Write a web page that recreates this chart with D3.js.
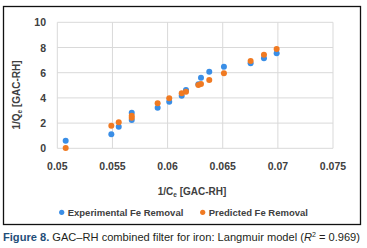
<!DOCTYPE html>
<html>
<head>
<meta charset="utf-8">
<script src="https://cdn.jsdelivr.net/npm/d3@7"></script>
<style>
  body { margin: 0; background: #fff; }
  svg text { font-family: "Liberation Sans", Arial, sans-serif; }
</style>
</head>
<body>
<script>
// 1/Ce values and 1/Qe values
var expX = [0.05076, 0.0549, 0.05557, 0.05675, 0.05675, 0.0591, 0.06015, 0.06128, 0.06167, 0.06279, 0.06303, 0.06378, 0.06511, 0.06753, 0.06874, 0.06989];
var expY = [0.60, 1.11, 1.71, 2.25, 2.83, 3.22, 3.70, 4.17, 4.63, 5.08, 5.60, 6.08, 6.48, 6.75, 7.14, 7.54];
var predX = [0.05076, 0.0549, 0.05557, 0.05675, 0.05675, 0.0591, 0.06015, 0.06128, 0.06167, 0.06279, 0.06303, 0.06378, 0.06511, 0.06753, 0.06874, 0.06989];
var predY = [0.02, 1.79, 2.06, 2.42, 2.58, 3.57, 3.97, 4.36, 4.49, 5.02, 5.10, 5.42, 5.95, 6.93, 7.43, 7.88];
var xTicks = [0.05, 0.055, 0.06, 0.065, 0.07, 0.075];
var yTicks = [0, 2, 4, 6, 8, 10];
var seriesNames = ["Experimental Fe Removal", "Predicted Fe Removal"];
var seriesColors = ["#3a8ee6", "#f07a22"];

var W = 367, H = 248;
var svg = d3.select("body").append("svg")
    .attr("width", W)
    .attr("height", H);

// chart frame
svg.append("rect")
    .attr("x", 3.5).attr("y", 6.5)
    .attr("width", 357).attr("height", 218)
    .attr("fill", "#fff")
    .attr("stroke", "#111")
    .attr("stroke-width", 1.3);

var x = d3.scaleLinear().domain([0.05, 0.075]).range([57.3, 333]);
var y = d3.scaleLinear().domain([0, 10]).range([148.3, 22.3]);

// gridlines
svg.append("g").selectAll("line.v")
    .data(xTicks).enter().append("line")
    .attr("x1", d => x(d)).attr("x2", d => x(d))
    .attr("y1", y(0)).attr("y2", y(10))
    .attr("stroke", "#d9d9d9").attr("stroke-width", 1);
svg.append("g").selectAll("line.h")
    .data(yTicks).enter().append("line")
    .attr("x1", x(0.05)).attr("x2", x(0.075))
    .attr("y1", d => y(d)).attr("y2", d => y(d))
    .attr("stroke", "#d9d9d9").attr("stroke-width", 1);

// tick labels
svg.append("g").selectAll("text")
    .data(yTicks).enter().append("text")
    .attr("x", 46)
    .attr("y", d => y(d) + 4)
    .attr("text-anchor", "end")
    .attr("font-size", 10.5).attr("font-weight", "bold")
    .attr("fill", "#404040")
    .text(d => d);
svg.append("g").selectAll("text")
    .data(xTicks).enter().append("text")
    .attr("x", d => x(d))
    .attr("y", 170)
    .attr("text-anchor", "middle")
    .attr("font-size", 10.5).attr("font-weight", "bold")
    .attr("fill", "#404040")
    .text(d => d3.format("")(d));

// axis titles
var xt = svg.append("text")
    .attr("x", 192).attr("y", 195)
    .attr("text-anchor", "middle")
    .attr("font-size", 10).attr("font-weight", "bold")
    .attr("fill", "#404040");
xt.append("tspan").text("1/C");
xt.append("tspan").attr("font-size", 6.5).attr("dy", 2).text("e");
xt.append("tspan").attr("dy", -2).text(" [GAC-RH]");

var yt = svg.append("text")
    .attr("transform", "translate(20,95) rotate(-90)")
    .attr("text-anchor", "middle")
    .attr("font-size", 10).attr("font-weight", "bold")
    .attr("fill", "#404040");
yt.append("tspan").text("1/Q");
yt.append("tspan").attr("font-size", 6.5).attr("dy", 2).text("e");
yt.append("tspan").attr("dy", -2).text(" [GAC-RH]");

// points
var series = [d3.zip(expX, expY), d3.zip(predX, predY)];
series.forEach(function (pts, i) {
    svg.append("g").selectAll("circle")
        .data(pts).enter().append("circle")
        .attr("cx", d => x(d[0]))
        .attr("cy", d => y(d[1]))
        .attr("r", 3)
        .attr("fill", seriesColors[i]);
});

// legend
var legendX = [61.7, 202.7];
seriesNames.forEach(function (name, i) {
    svg.append("circle")
        .attr("cx", legendX[i]).attr("cy", 212.3)
        .attr("r", 2.6).attr("fill", seriesColors[i]);
    svg.append("text")
        .attr("x", legendX[i] + 6).attr("y", 215.5)
        .attr("font-size", 9.5).attr("font-weight", "bold")
        .attr("fill", "#404040")
        .text(name);
});

// caption
var cap = svg.append("text")
    .attr("x", 3).attr("y", 241)
    .attr("font-size", 11)
    .attr("fill", "#231f20")
    .attr("textLength", 357)
    .attr("lengthAdjust", "spacingAndGlyphs");
cap.append("tspan").attr("font-weight", "bold").attr("fill", "#1f4e79").text("Figure 8.");
cap.append("tspan").text(" GAC\u2013RH combined filter for iron: Langmuir model (");
cap.append("tspan").attr("font-style", "italic").text("R");
cap.append("tspan").attr("font-size", 7).attr("dy", -4).text("2");
cap.append("tspan").attr("dy", 4).text(" = 0.969)");
</script>
</body>
</html>
